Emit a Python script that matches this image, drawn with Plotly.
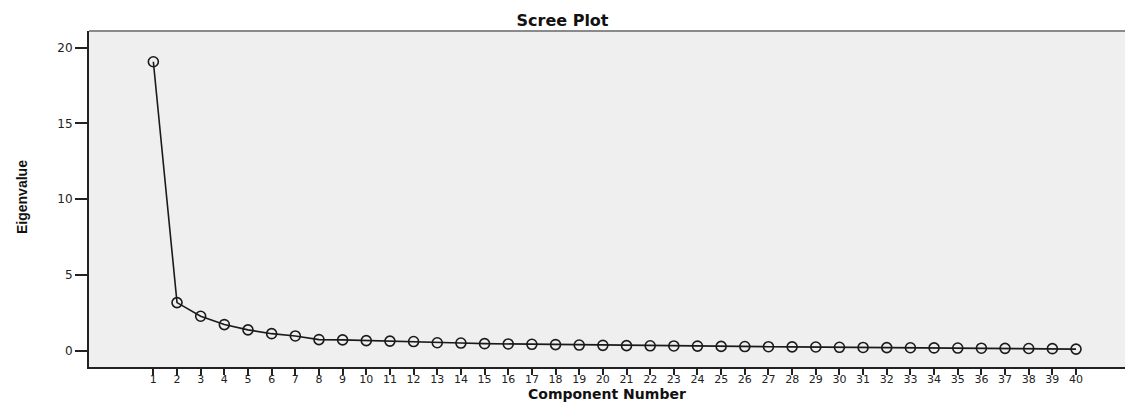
import plotly.graph_objects as go

# Eigenvalues of the 40 extracted components
components = list(range(1, 41))
eigenvalues = [
    19.07, 3.17, 2.27, 1.72, 1.37, 1.12, 0.97, 0.73, 0.71, 0.66,
    0.63, 0.60, 0.52, 0.50, 0.46, 0.44, 0.42, 0.40, 0.37, 0.35,
    0.33, 0.32, 0.31, 0.30, 0.28, 0.27, 0.26, 0.25, 0.24, 0.22,
    0.21, 0.20, 0.19, 0.18, 0.17, 0.16, 0.15, 0.14, 0.13, 0.10,
]
x_tick_labels = [str(c) for c in components]
y_ticks = [0, 5, 10, 15, 20]

W, H = 1125, 404
L, R, T, B = 89, 0, 31, 37
plot_h = H - T - B

fig = go.Figure()
fig.add_trace(go.Scatter(
    x=components,
    y=eigenvalues,
    mode="lines+markers",
    line=dict(color="#1a1a1a", width=1.6),
    marker=dict(symbol="circle-open", size=10,
                line=dict(color="#333333", width=1.6)),
    hoverinfo="x+y",
    showlegend=False,
))

fig.update_layout(
    width=W, height=H,
    margin=dict(l=L, r=R, t=T, b=B),
    paper_bgcolor="white",
    plot_bgcolor="#efefef",
    title=dict(
        text="Scree Plot",
        x=0.5, xref="container", xanchor="center",
        y=1 - 20 / H, yref="container", yanchor="middle",
        font=dict(family="DejaVu Sans", size=16, color="#111111", weight="bold"),
    ),
    xaxis=dict(
        range=[-1.72, 42.07],
        tickmode="array", tickvals=components, ticktext=x_tick_labels,
        ticks="outside", ticklen=6, tickwidth=2, tickcolor="#222222",
        ticklabelstandoff=-5,
        showgrid=False, zeroline=False,
        showline=True, linecolor="#222222", linewidth=2,
        tickfont=dict(family="DejaVu Sans", size=11, color="#222222"),
        tickangle=0,
    ),
    yaxis=dict(
        range=[-1.08, 21.1],
        tickmode="array", tickvals=y_ticks,
        ticks="outside", ticklen=12, tickwidth=1.5, tickcolor="#222222",
        showgrid=False, zeroline=False,
        showline=True, linecolor="#222222", linewidth=2,
        tickfont=dict(family="DejaVu Sans", size=12, color="#222222"),
    ),
    shapes=[
        # light frame line along the top of the plotting area
        dict(type="line", xref="paper", yref="paper", x0=0, x1=1, y0=1, y1=1,
             line=dict(color="#8a8a8a", width=2)),
    ],
    annotations=[
        dict(text="Component Number", xref="paper", yref="paper",
             x=0.5, y=-(H - (H - B) - 1) / plot_h, xanchor="center", yanchor="bottom",
             showarrow=False, borderpad=0,
             font=dict(family="DejaVu Sans", size=14, color="#111111", weight="bold")),
        dict(text="Eigenvalue", xref="paper", yref="paper",
             x=(22 - L) / (W - L - R), y=(H - B - 197) / plot_h,
             xanchor="center", yanchor="middle", textangle=-90,
             showarrow=False,
             font=dict(family="Liberation Sans Narrow, Liberation Sans", size=14,
                       color="#111111", weight="bold")),
    ],
)

fig.write_html("out.html")
